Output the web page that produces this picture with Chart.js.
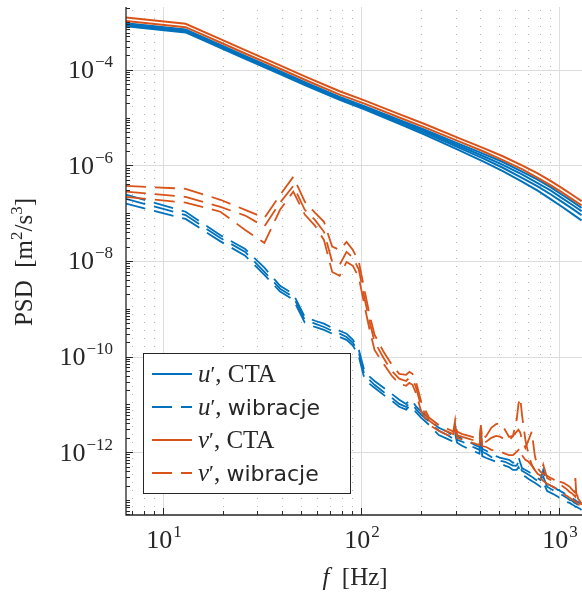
<!DOCTYPE html>
<html>
<head>
<meta charset="utf-8">
<script src="https://cdn.jsdelivr.net/npm/chart.js@4.4.0/dist/chart.umd.min.js"></script>
<style>
  html, body { margin: 0; padding: 0; background: #fff; }
  canvas { display: block; }
</style>
</head>
<body>
<canvas id="widmo" width="582" height="596"></canvas>
<script>
// częstotliwości [Hz]
const freqCta = [6.5, 13, 19.5, 26, 39, 52, 78, 104, 156, 208, 312, 416, 520, 650, 780, 910, 1040, 1170, 1300];
const freqVib = [6.5, 13, 19.5, 26, 32.5, 39, 45.5, 52, 58.5, 65,
  71.5, 78, 84.5, 91, 97.5, 104, 110.5, 117, 130, 143,
  156, 169, 175.5, 182, 188.5, 201.5, 221, 247, 273, 292.5,
  299, 305.5, 325, 351, 377, 396.5, 403, 409.5, 429, 455,
  481, 507, 533, 559, 585, 611, 624, 637, 650, 676,
  702, 728, 754, 780, 806, 832, 871, 910, 949, 988,
  1001, 1014, 1053, 1092, 1131, 1170, 1196, 1209, 1222, 1248,
  1274, 1300];

// log10(PSD) - pomiar CTA
const uCta1 = [-3.03, -3.16, -3.48, -3.71, -4.03, -4.26, -4.57, -4.76, -5.05, -5.25, -5.55, -5.76, -5.93, -6.13, -6.30, -6.46, -6.62, -6.76, -6.89];
const uCta2 = [-3.05, -3.18, -3.50, -3.73, -4.05, -4.28, -4.59, -4.78, -5.07, -5.28, -5.59, -5.81, -5.99, -6.19, -6.37, -6.53, -6.69, -6.83, -6.96];
const uCta3 = [-3.07, -3.20, -3.52, -3.75, -4.07, -4.30, -4.61, -4.80, -5.10, -5.31, -5.63, -5.86, -6.05, -6.26, -6.44, -6.61, -6.77, -6.91, -7.04];
const uCta4 = [-3.09, -3.22, -3.54, -3.77, -4.09, -4.32, -4.63, -4.83, -5.13, -5.35, -5.68, -5.92, -6.12, -6.34, -6.53, -6.71, -6.87, -7.02, -7.15];
const vCta1 = [-2.91, -3.04, -3.36, -3.59, -3.91, -4.14, -4.45, -4.64, -4.93, -5.13, -5.43, -5.64, -5.81, -6.00, -6.17, -6.33, -6.48, -6.62, -6.75];
const vCta2 = [-2.98, -3.11, -3.43, -3.66, -3.98, -4.21, -4.52, -4.71, -5.00, -5.20, -5.50, -5.71, -5.89, -6.08, -6.26, -6.42, -6.57, -6.71, -6.84];

// log10(PSD) - wibracje
const uVib1 = [-6.61, -6.97, -7.46, -7.75, -8.14, -8.52, -8.69, -9.17, -9.25, -9.31,
  -9.40, -9.46, -9.52, -9.65, -9.86, -10.30, -10.42, -10.51, -10.65, -10.78,
  -10.90, -10.99, -10.90, -10.92, -11.03, -11.15, -11.30, -11.49, -11.57, -11.66,
  -11.45, -11.66, -11.72, -11.78, -11.85, -11.89, -11.57, -11.93, -11.97, -12.03,
  -12.08, -12.12, -12.14, -12.16, -12.22, -12.20, -12.10, -12.22, -12.33, -12.37,
  -12.41, -12.45, -12.49, -12.54, -12.58, -12.37, -12.66, -12.70, -12.74, -12.79,
  -12.79, -12.81, -12.85, -12.89, -12.93, -12.95, -13.00, -13.00, -13.02, -13.04,
  -13.06, -13.08];
const uVib2 = [-6.70, -7.04, -7.52, -7.81, -8.23, -8.58, -8.75, -9.23, -9.31, -9.38,
  -9.46, -9.52, -9.59, -9.71, -9.92, -10.38, -10.49, -10.59, -10.74, -10.86,
  -10.99, -11.05, -10.97, -10.99, -11.09, -11.22, -11.36, -11.55, -11.64, -11.72,
  -11.53, -11.74, -11.78, -11.85, -11.91, -11.95, -11.66, -11.99, -12.03, -12.10,
  -12.14, -12.18, -12.20, -12.24, -12.28, -12.28, -12.20, -12.31, -12.39, -12.43,
  -12.47, -12.51, -12.56, -12.60, -12.64, -12.51, -12.72, -12.77, -12.81, -12.85,
  -12.87, -12.87, -12.91, -12.95, -13.00, -13.02, -13.06, -13.06, -13.08, -13.10,
  -13.12, -13.14];
const uVib3 = [-6.80, -7.12, -7.59, -7.89, -8.29, -8.64, -8.81, -9.29, -9.38, -9.44,
  -9.52, -9.59, -9.65, -9.77, -10.00, -10.46, -10.57, -10.65, -10.80, -10.92,
  -11.05, -11.11, -11.03, -11.05, -11.15, -11.28, -11.43, -11.64, -11.72, -11.78,
  -11.62, -11.80, -11.87, -11.93, -11.99, -12.03, -11.74, -12.08, -12.12, -12.16,
  -12.20, -12.24, -12.28, -12.31, -12.37, -12.37, -12.31, -12.39, -12.47, -12.51,
  -12.56, -12.60, -12.64, -12.68, -12.72, -12.62, -12.81, -12.85, -12.89, -12.93,
  -12.95, -12.95, -13.00, -13.04, -13.06, -13.10, -13.12, -13.14, -13.14, -13.16,
  -13.18, -13.21];
const vVib1 = [-6.43, -6.49, -6.72, -6.93, -7.10, -6.62, -6.24, -6.76, -6.99, -7.18,
  -7.70, -7.77, -7.60, -7.77, -8.02, -8.60, -9.13, -9.54, -9.90, -10.17,
  -10.36, -10.38, -10.32, -10.36, -10.49, -10.95, -11.28, -11.43, -11.51, -11.57,
  -11.32, -11.57, -11.62, -11.66, -11.70, -11.72, -11.43, -11.74, -11.66, -11.49,
  -11.41, -11.39, -11.53, -11.68, -11.66, -11.32, -10.99, -10.86, -11.22, -11.74,
  -12.06, -12.26, -12.37, -12.45, -12.49, -12.26, -12.54, -12.58, -12.58, -12.60,
  -12.62, -12.62, -12.64, -12.68, -12.72, -12.79, -12.83, -12.54, -12.87, -12.91,
  -12.95, -13.06];
const vVib2 = [-6.55, -6.66, -6.87, -7.05, -7.28, -6.78, -6.43, -6.93, -7.14, -7.39,
  -8.02, -8.08, -7.81, -7.93, -8.18, -8.77, -9.27, -9.69, -10.03, -10.30,
  -10.46, -10.51, -10.44, -10.49, -10.61, -11.05, -11.34, -11.49, -11.57, -11.62,
  -11.41, -11.64, -11.68, -11.72, -11.76, -11.78, -11.49, -11.80, -11.78, -11.70,
  -11.66, -11.68, -11.74, -11.76, -11.66, -11.57, -11.53, -11.59, -11.74, -11.91,
  -11.74, -11.57, -12.06, -12.33, -12.41, -12.45, -12.49, -12.54, -12.58, -12.64,
  -12.66, -12.68, -12.72, -12.77, -12.83, -12.87, -12.91, -12.93, -12.79, -12.97,
  -13.02, -13.10];
const vVib3 = [-6.66, -6.78, -6.97, -7.35, -7.62, -6.93, -6.55, -7.03, -7.26, -7.56,
  -8.23, -8.31, -8.02, -8.10, -8.35, -8.92, -9.44, -9.86, -10.15, -10.40,
  -10.57, -10.61, -10.55, -10.59, -10.74, -11.15, -11.43, -11.55, -11.64, -11.68,
  -11.49, -11.70, -11.74, -11.78, -11.82, -11.85, -11.57, -11.87, -11.89, -11.95,
  -11.97, -11.99, -12.03, -12.06, -12.06, -11.99, -11.95, -11.91, -12.06, -12.16,
  -12.20, -12.28, -12.37, -12.47, -12.54, -12.60, -12.66, -12.70, -12.74, -12.79,
  -12.81, -12.83, -12.87, -12.91, -12.95, -13.00, -13.02, -13.04, -13.04, -13.08,
  -13.12, -13.18];

// opisy osi (wykładniki potęg 10)
const xTickExp = [1, 2, 3];
const yTickExp = [-4, -6, -8, -10, -12];

const NIEBIESKI = '#0072BD';
const POMARANCZ = '#D95319';
const OSIE = '#262626';
const SERIF = '"Liberation Serif", "DejaVu Serif", serif';
const SANS = '"DejaVu Sans", sans-serif';
const KRESKA = [20, 9];

function seria(freq, logPsd) {
  return freq.map((f, i) => ({ x: f, y: Math.pow(10, logPsd[i]) }));
}

function linia(freq, logPsd, kolor, przerywana) {
  return {
    data: seria(freq, logPsd),
    borderColor: kolor,
    borderWidth: przerywana ? 1.8 : 2,
    borderDash: przerywana ? KRESKA : [],
    pointRadius: 0,
    fill: false,
    order: kolor === NIEBIESKI ? 2 : 1
  };
}

// tekst złożony z kawałków o różnych krojach
function rysujSegmenty(ctx, segmenty, x, y, wyrownanie) {
  let szer = 0;
  segmenty.forEach(s => {
    ctx.font = s.font;
    s.w = ctx.measureText(s.t).width;
    szer += s.w;
  });
  let xx = wyrownanie === 'center' ? x - szer / 2 : (wyrownanie === 'right' ? x - szer : x);
  ctx.textAlign = 'left';
  ctx.textBaseline = 'alphabetic';
  segmenty.forEach(s => {
    ctx.font = s.font;
    ctx.fillText(s.t, xx, y + (s.dy || 0));
    xx += s.w;
  });
}

function potega(wyk) {
  const txt = wyk < 0 ? '\u2212' + Math.abs(wyk) : String(wyk);
  return [
    { t: '10', font: '26px ' + SERIF },
    { t: ' ', font: '4px ' + SERIF },
    { t: txt, font: '17px ' + SERIF, dy: -11 }
  ];
}

const wykres = {
  id: 'wykres',
  beforeDatasetsDraw(chart) {
    const { ctx, chartArea: a, scales: { x, y } } = chart;
    ctx.save();
    ctx.lineWidth = 1;
    // siatka pomocnicza (kropkowana) na osi f
    ctx.strokeStyle = '#b4b4b4';
    ctx.setLineDash([1, 7]);
    for (let n = 0; n <= 3; n++) {
      for (let k = 2; k <= 9; k++) {
        const f = k * Math.pow(10, n);
        if (f < x.min || f > x.max) continue;
        const px = Math.round(x.getPixelForValue(f)) + 0.5;
        ctx.beginPath();
        ctx.moveTo(px, a.bottom);
        ctx.lineTo(px, a.top);
        ctx.stroke();
      }
    }
    // siatka główna
    ctx.setLineDash([]);
    ctx.strokeStyle = '#dcdcdc';
    xTickExp.forEach(e => {
      const px = Math.round(x.getPixelForValue(Math.pow(10, e))) + 0.5;
      ctx.beginPath();
      ctx.moveTo(px, a.bottom);
      ctx.lineTo(px, a.top);
      ctx.stroke();
    });
    yTickExp.forEach(e => {
      const py = Math.round(y.getPixelForValue(Math.pow(10, e))) + 0.5;
      ctx.beginPath();
      ctx.moveTo(a.left, py);
      ctx.lineTo(a.right, py);
      ctx.stroke();
    });
    ctx.restore();
  },
  afterDatasetsDraw(chart) {
    const { ctx, chartArea: a, scales: { x, y } } = chart;
    ctx.save();
    ctx.strokeStyle = OSIE;
    ctx.fillStyle = OSIE;
    ctx.lineWidth = 1.3;
    ctx.setLineDash([]);

    // osie
    ctx.beginPath();
    ctx.moveTo(a.left, a.top);
    ctx.lineTo(a.left, a.bottom);
    ctx.lineTo(a.right, a.bottom);
    ctx.stroke();

    // znaczniki osi x
    ctx.lineWidth = 1;
    for (let n = 0; n <= 3; n++) {
      for (let k = 1; k <= 9; k++) {
        const f = k * Math.pow(10, n);
        if (f < x.min || f > x.max) continue;
        const px = Math.round(x.getPixelForValue(f)) + 0.5;
        const dl = k === 1 ? 7 : 4;
        ctx.beginPath();
        ctx.moveTo(px, a.bottom);
        ctx.lineTo(px, a.bottom - dl);
        ctx.stroke();
      }
    }
    // znaczniki osi y
    for (let n = -14; n <= -2; n++) {
      for (let k = 1; k <= 9; k++) {
        const v = k * Math.pow(10, n);
        if (v < y.min || v > y.max) continue;
        const py = Math.round(y.getPixelForValue(v)) + 0.5;
        const dl = (k === 1 && n % 2 === 0) ? 7 : 4;
        ctx.beginPath();
        ctx.moveTo(a.left, py);
        ctx.lineTo(a.left + dl, py);
        ctx.stroke();
      }
    }

    // etykiety
    yTickExp.forEach(e => {
      const py = y.getPixelForValue(Math.pow(10, e));
      rysujSegmenty(ctx, potega(e), 113, py + 8.5, 'right');
    });
    xTickExp.forEach(e => {
      const px = x.getPixelForValue(Math.pow(10, e));
      rysujSegmenty(ctx, potega(e), px + 1, 548, 'center');
    });

    // tytuły osi
    rysujSegmenty(ctx, [
      { t: 'f', font: 'italic 25px ' + SERIF },
      { t: '  [Hz]', font: '25px ' + SERIF }
    ], 355, 585, 'center');

    ctx.save();
    ctx.translate(32, 262);
    ctx.rotate(-Math.PI / 2);
    rysujSegmenty(ctx, [
      { t: 'PSD  [m', font: '25px ' + SERIF },
      { t: '2', font: '17px ' + SERIF, dy: -10 },
      { t: '/s', font: '25px ' + SERIF },
      { t: '3', font: '17px ' + SERIF, dy: -10 },
      { t: ']', font: '25px ' + SERIF }
    ], 0, 0, 'center');
    ctx.restore();

    // legenda
    const lx = 143.5, ly = 353.5, lw = 207, lh = 140;
    ctx.fillStyle = '#ffffff';
    ctx.fillRect(lx, ly, lw, lh);
    ctx.strokeStyle = OSIE;
    ctx.lineWidth = 1;
    ctx.strokeRect(lx, ly, lw, lh);
    const wpisy = [
      { kolor: NIEBIESKI, dash: [], sym: 'u', opis: 'CTA', font: '25px ' + SERIF },
      { kolor: NIEBIESKI, dash: KRESKA, sym: 'u', opis: 'wibracje', font: '22px ' + SANS },
      { kolor: POMARANCZ, dash: [], sym: 'v', opis: 'CTA', font: '25px ' + SERIF },
      { kolor: POMARANCZ, dash: KRESKA, sym: 'v', opis: 'wibracje', font: '22px ' + SANS }
    ];
    wpisy.forEach((w, i) => {
      const ry = 374 + i * 33;
      ctx.strokeStyle = w.kolor;
      ctx.lineWidth = 2;
      ctx.setLineDash(w.dash);
      ctx.beginPath();
      ctx.moveTo(152, ry);
      ctx.lineTo(192, ry);
      ctx.stroke();
      ctx.setLineDash([]);
      ctx.fillStyle = OSIE;
      rysujSegmenty(ctx, [
        { t: w.sym, font: 'italic 25px ' + SERIF },
        { t: '\u2032', font: '22px ' + SERIF, dy: -1 },
        { t: ', ', font: '25px ' + SERIF },
        { t: w.opis, font: w.font }
      ], 198, ry + 8, 'left');
    });

    ctx.restore();
  }
};

const ctx = document.getElementById('widmo').getContext('2d');
new Chart(ctx, {
  type: 'line',
  data: {
    datasets: [
      linia(freqCta, uCta1, NIEBIESKI, false),
      linia(freqCta, uCta2, NIEBIESKI, false),
      linia(freqCta, uCta3, NIEBIESKI, false),
      linia(freqCta, uCta4, NIEBIESKI, false),
      linia(freqVib, uVib1, NIEBIESKI, true),
      linia(freqVib, uVib2, NIEBIESKI, true),
      linia(freqVib, uVib3, NIEBIESKI, true),
      linia(freqCta, vCta1, POMARANCZ, false),
      linia(freqCta, vCta2, POMARANCZ, false),
      linia(freqVib, vVib1, POMARANCZ, true),
      linia(freqVib, vVib2, POMARANCZ, true),
      linia(freqVib, vVib3, POMARANCZ, true)
    ]
  },
  options: {
    responsive: false,
    animation: false,
    devicePixelRatio: 1,
    layout: { padding: { left: 126, top: 7, right: 0, bottom: 81 } },
    scales: {
      x: { type: 'logarithmic', min: 6.503, max: 1306, bounds: 'data', display: false },
      y: { type: 'logarithmic', min: 4.87e-14, max: 2.05e-3, bounds: 'data', display: false }
    },
    plugins: {
      legend: { display: false },
      tooltip: { enabled: false }
    }
  },
  plugins: [wykres]
});
</script>
</body>
</html>
